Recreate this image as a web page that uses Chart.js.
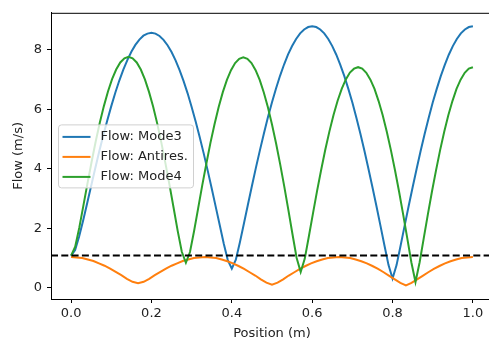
<!DOCTYPE html>
<html><head><meta charset="utf-8">
<script src="https://cdn.jsdelivr.net/npm/chart.js@4/dist/chart.umd.min.js"></script>
<style>html,body{margin:0;padding:0;background:#fff;overflow:hidden;}#wrap{width:500px;height:342px;position:relative;}</style>
</head><body><div id="wrap"><canvas id="c" width="500" height="342"></canvas></div>
<script>
const seriesLabels = ['Flow: Mode3', 'Flow: Antires.', 'Flow: Mode4'];

const mode3Positions = [0,0.01,0.02,0.03,0.04,0.05,0.06,0.07,0.08,0.09,0.10,0.11,0.12,0.13,0.14,0.15,0.16,0.17,0.18,0.19,0.20,0.21,0.22,0.23,0.24,0.25,0.26,0.27,0.28,0.29,0.30,0.31,0.32,0.33,0.34,0.35,0.36,0.37,0.38,0.39,0.40,0.41,0.42,0.43,0.44,0.45,0.46,0.47,0.48,0.49,0.50,0.51,0.52,0.53,0.54,0.55,0.56,0.57,0.58,0.59,0.60,0.61,0.62,0.63,0.64,0.65,0.66,0.67,0.68,0.69,0.70,0.71,0.72,0.73,0.74,0.75,0.76,0.77,0.78,0.79,0.80,0.81,0.82,0.83,0.84,0.85,0.86,0.87,0.88,0.89,0.90,0.91,0.92,0.93,0.94,0.95,0.96,0.97,0.98,0.99,1.00];
const mode3Flow = [1.08,1.27,1.72,2.26,2.84,3.43,4.01,4.58,5.12,5.63,6.11,6.56,6.97,7.34,7.66,7.94,8.17,8.35,8.48,8.55,8.58,8.55,8.47,8.34,8.16,7.93,7.65,7.32,6.95,6.54,6.08,5.59,5.07,4.52,3.94,3.34,2.72,2.10,1.48,0.93,0.64,0.94,1.52,2.15,2.79,3.42,4.04,4.63,5.20,5.74,6.24,6.70,7.13,7.51,7.85,8.13,8.37,8.56,8.69,8.77,8.80,8.77,8.69,8.56,8.37,8.13,7.84,7.50,7.12,6.69,6.23,5.72,5.18,4.61,4.00,3.38,2.74,2.08,1.41,0.76,0.31,0.76,1.41,2.08,2.74,3.38,4.00,4.61,5.18,5.72,6.23,6.69,7.12,7.50,7.84,8.13,8.37,8.56,8.69,8.77,8.80];

const antiresPositions = [0,0.0139,0.0278,0.0417,0.0556,0.0694,0.0833,0.0972,0.1111,0.125,0.1389,0.1528,0.1667,0.1806,0.1944,0.2083,0.2222,0.2361,0.25,0.2639,0.2778,0.2917,0.3056,0.3194,0.3333,0.3472,0.3611,0.375,0.3889,0.4028,0.4167,0.4306,0.4444,0.4583,0.4722,0.4861,0.5,0.5139,0.5278,0.5417,0.5556,0.5694,0.5833,0.5972,0.6111,0.625,0.6389,0.6528,0.6667,0.6806,0.6944,0.7083,0.7222,0.7361,0.75,0.7639,0.7778,0.7917,0.8056,0.8194,0.8333,0.8472,0.8611,0.875,0.8889,0.9028,0.9167,0.9306,0.9444,0.9583,0.9722,0.9861,1.0];
const antiresFlow = [1.03,1.02,1.00,0.95,0.90,0.82,0.74,0.64,0.53,0.42,0.30,0.20,0.15,0.20,0.30,0.42,0.53,0.64,0.74,0.82,0.90,0.95,1.00,1.02,1.03,1.02,1.00,0.95,0.89,0.82,0.73,0.63,0.52,0.41,0.28,0.17,0.10,0.17,0.28,0.41,0.52,0.63,0.73,0.82,0.89,0.95,1.00,1.02,1.03,1.02,1.00,0.95,0.89,0.82,0.73,0.63,0.52,0.40,0.28,0.16,0.08,0.16,0.28,0.40,0.52,0.63,0.73,0.82,0.89,0.95,1.00,1.02,1.03];

const mode4Positions = [0,0.0102,0.0204,0.0306,0.0408,0.0510,0.0612,0.0714,0.0816,0.0918,0.1020,0.1122,0.1224,0.1327,0.1429,0.1531,0.1633,0.1735,0.1837,0.1939,0.2041,0.2143,0.2245,0.2347,0.2449,0.2551,0.2653,0.2755,0.2857,0.2959,0.3061,0.3163,0.3265,0.3367,0.3469,0.3571,0.3673,0.3776,0.3878,0.3980,0.4082,0.4184,0.4286,0.4388,0.4490,0.4592,0.4694,0.4796,0.4898,0.5,0.5102,0.5204,0.5306,0.5408,0.5510,0.5612,0.5714,0.5816,0.5918,0.6020,0.6122,0.6224,0.6327,0.6429,0.6531,0.6633,0.6735,0.6837,0.6939,0.7041,0.7143,0.7245,0.7347,0.7449,0.7551,0.7653,0.7755,0.7857,0.7959,0.8061,0.8163,0.8265,0.8367,0.8469,0.8571,0.8673,0.8776,0.8878,0.8980,0.9082,0.9184,0.9286,0.9388,0.9490,0.9592,0.9694,0.9796,0.9898,1.0];
const mode4Flow = [1.08,1.38,2.02,2.76,3.51,4.23,4.92,5.55,6.11,6.60,7.02,7.34,7.58,7.72,7.77,7.72,7.58,7.34,7.01,6.59,6.10,5.53,4.89,4.19,3.46,2.69,1.91,1.21,0.84,1.20,1.91,2.68,3.45,4.18,4.88,5.51,6.08,6.58,6.99,7.32,7.56,7.70,7.75,7.70,7.56,7.32,6.99,6.57,6.07,5.49,4.85,4.15,3.40,2.61,1.80,1.01,0.53,0.98,1.73,2.50,3.26,3.97,4.65,5.26,5.81,6.29,6.69,7.01,7.24,7.37,7.42,7.37,7.23,7.00,6.69,6.28,5.80,5.25,4.63,3.95,3.23,2.46,1.66,0.85,0.19,0.85,1.66,2.46,3.23,3.95,4.63,5.25,5.80,6.28,6.69,7.00,7.23,7.37,7.42];

const thresholdFlow = 1.08;
const xTicks = [0, 0.2, 0.4, 0.6, 0.8, 1.0];
const xTickLabels = ['0.0', '0.2', '0.4', '0.6', '0.8', '1.0'];
const yTicks = [0, 2, 4, 6, 8];
const yTickLabels = ['0', '2', '4', '6', '8'];

const colors = ['#1f77b4', '#ff7f0e', '#2ca02c'];
const FONT = {family: 'DejaVu Sans', size: 13};
const TXT = '#222';

function pts(xs, ys) { return xs.map((x, i) => ({x: x, y: ys[i]})); }

const spinePlugin = {
  id: 'spines',
  afterDraw(chart) {
    const {ctx, chartArea: a} = chart;
    ctx.save();
    ctx.strokeStyle = '#000';
    ctx.lineWidth = 1;
    ctx.beginPath();
    ctx.moveTo(a.left, a.top + 0.5); ctx.lineTo(a.right, a.top + 0.5);
    ctx.moveTo(a.right - 0.5, a.top); ctx.lineTo(a.right - 0.5, a.bottom);
    ctx.stroke();
    ctx.restore();
  }
};

const legendPlugin = {
  id: 'mplLegend',
  afterDatasetsDraw(chart) {
    const {ctx, chartArea: a} = chart;
    const items = chart.data.datasets.filter(d => d.showInLegend);
    const w = 135, rowH = 20, h = items.length * rowH + 3;
    const x0 = a.left + 7.5, y0 = (a.top + a.bottom) / 2 - h / 2 + 0.5;
    ctx.save();
    ctx.beginPath();
    if (ctx.roundRect) ctx.roundRect(x0, y0, w, h, 3); else ctx.rect(x0, y0, w, h);
    ctx.fillStyle = 'rgba(255,255,255,0.8)';
    ctx.fill();
    ctx.strokeStyle = '#d0d0d0';
    ctx.lineWidth = 1;
    ctx.stroke();
    ctx.font = FONT.size + 'px ' + FONT.family;
    ctx.textBaseline = 'middle';
    ctx.textAlign = 'left';
    items.forEach((d, i) => {
      const yy = y0 + 12 + i * rowH;
      ctx.strokeStyle = d.borderColor;
      ctx.lineWidth = 2;
      ctx.beginPath();
      ctx.moveTo(x0 + 4, yy); ctx.lineTo(x0 + 32, yy);
      ctx.stroke();
      ctx.fillStyle = TXT;
      ctx.fillText(d.label, x0 + 42, yy);
    });
    ctx.restore();
  }
};

new Chart(document.getElementById('c'), {
  type: 'line',
  data: {
    datasets: [
      {label: seriesLabels[0], data: pts(mode3Positions, mode3Flow), borderColor: colors[0], borderWidth: 2, pointRadius: 0, tension: 0, order: 3, showInLegend: true},
      {label: seriesLabels[1], data: pts(antiresPositions, antiresFlow), borderColor: colors[1], borderWidth: 2, pointRadius: 0, tension: 0, order: 2, showInLegend: true},
      {label: seriesLabels[2], data: pts(mode4Positions, mode4Flow), borderColor: colors[2], borderWidth: 2, pointRadius: 0, tension: 0, order: 1, showInLegend: true},
      {label: 'threshold', data: [{x: -0.05, y: thresholdFlow}, {x: 1.05, y: thresholdFlow}], borderColor: '#000', borderWidth: 2, borderDash: [7, 3.3], pointRadius: 0, order: 0, showInLegend: false}
    ]
  },
  options: {
    responsive: false,
    animation: false,
    devicePixelRatio: 1,
    parsing: false,
    layout: {padding: {top: 10, right: 7, left: 0, bottom: 0}},
    plugins: {legend: {display: false}, tooltip: {enabled: false}},
    scales: {
      x: {
        type: 'linear', min: -0.05, max: 1.05,
        afterBuildTicks: s => { s.ticks = xTicks.map(v => ({value: v})); },
        afterFit: s => { s.height = 43; },
        ticks: {font: FONT, color: TXT, padding: 3, maxRotation: 0, autoSkip: false,
          callback: (v, i) => xTickLabels[i]},
        grid: {display: true, drawOnChartArea: false, drawTicks: true, tickLength: 4, color: '#000', lineWidth: 1},
        border: {display: true, color: '#000', width: 1},
        title: {display: true, text: 'Position (m)', font: FONT, color: TXT, padding: {top: 1, bottom: 1}}
      },
      y: {
        type: 'linear', min: -0.38, max: 9.25,
        afterBuildTicks: s => { s.ticks = yTicks.map(v => ({value: v})); },
        afterFit: s => { s.width = 51; },
        ticks: {font: FONT, color: TXT, padding: 5, autoSkip: false,
          callback: (v, i) => yTickLabels[i]},
        grid: {display: true, drawOnChartArea: false, drawTicks: true, tickLength: 4, color: '#000', lineWidth: 1},
        border: {display: true, color: '#000', width: 1},
        title: {display: true, text: 'Flow (m/s)', font: FONT, color: TXT, padding: {top: 11, bottom: 11}}
      }
    }
  },
  plugins: [spinePlugin, legendPlugin]
});
</script>
</body></html>
